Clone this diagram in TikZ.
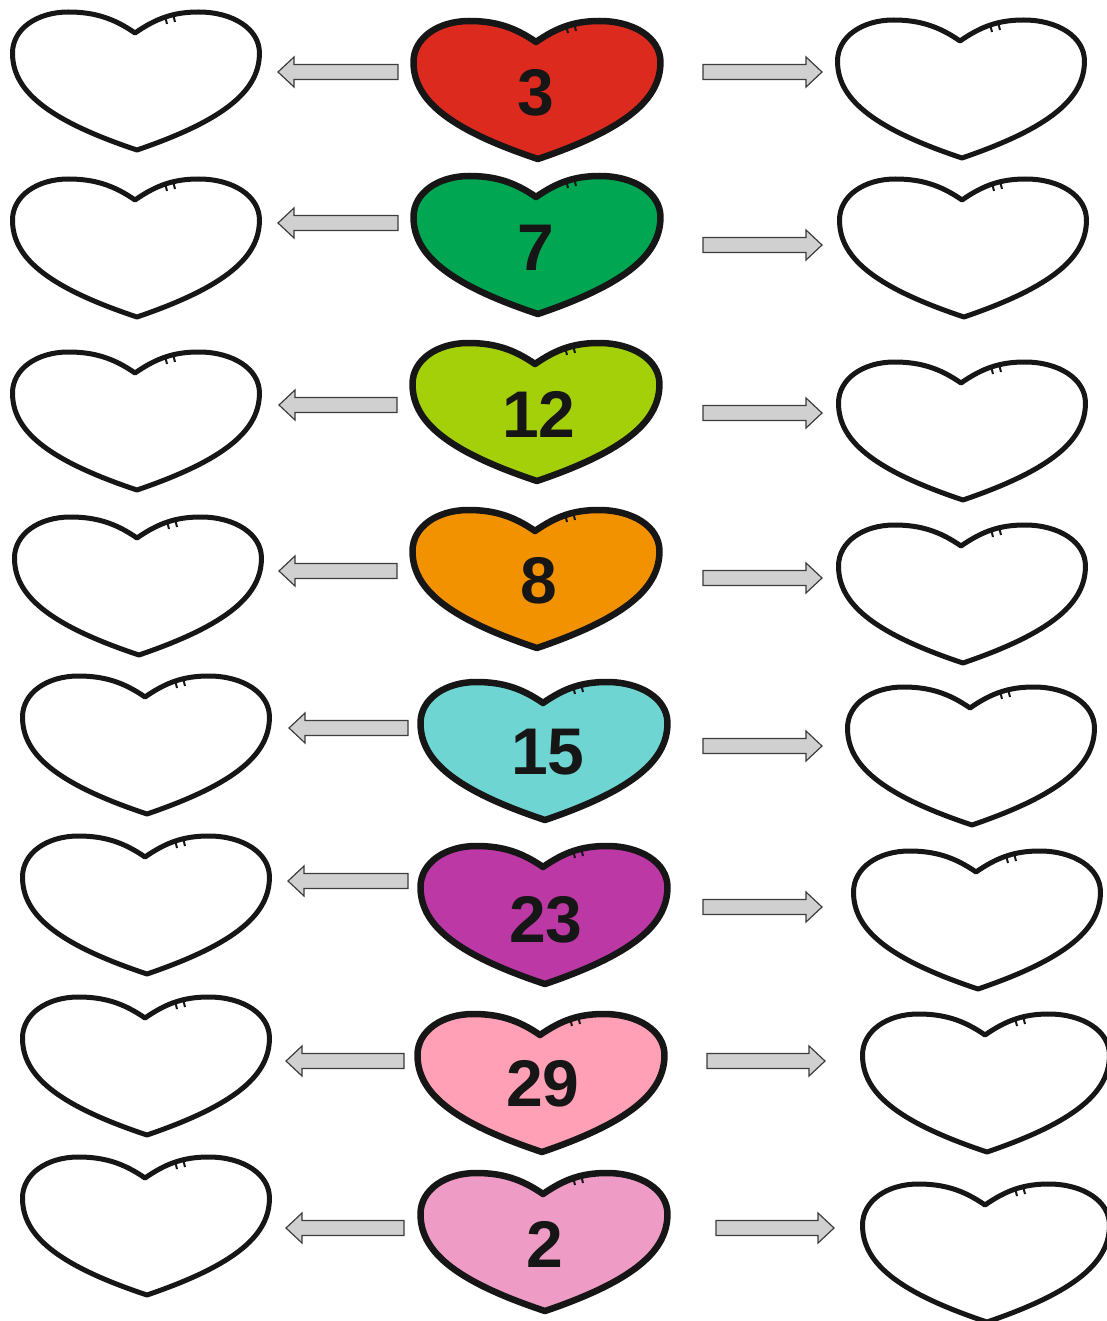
\documentclass[tikz,border=0pt]{standalone}
\usepackage{fontspec}
\setmainfont{Liberation Sans}
\usetikzlibrary{calc}
\definecolor{cRed}{RGB}{220,43,30}
\definecolor{cGreen}{RGB}{0,166,81}
\definecolor{cLime}{RGB}{164,208,10}
\definecolor{cOrange}{RGB}{243,146,0}
\definecolor{cCyan}{RGB}{111,213,210}
\definecolor{cPurple}{RGB}{188,56,165}
\definecolor{cPink}{RGB}{255,160,182}
\definecolor{cRose}{RGB}{238,156,198}
\definecolor{cInk}{RGB}{22,22,22}
\definecolor{cArrowFill}{RGB}{208,208,208}
\definecolor{cArrowLine}{RGB}{60,60,60}
\tikzset{
  colheart/.style={draw=cInk, line width=6.5pt, line join=round, fill=#1},
  openheart/.style={draw=cInk, line width=5pt, line join=round, fill=white},
  tickmark/.style={draw=cInk, line width=2pt},
  numlabel/.style={text=cInk, inner sep=0pt, font=\fontsize{66}{66}\selectfont\bfseries},
  garrow/.style={draw=cArrowLine, fill=cArrowFill, line width=1.2pt, line join=miter}
}
\newcommand{\heartat}[2]{%
  \draw[#2, shift={(#1)}, xscale=0.98] (0,0) .. controls (22,-15) and (40,-21) .. (65,-21)
    .. controls (100,-21) and (127,-4) .. (127,20)
    .. controls (127,56) and (95,86) .. (2,117)
    .. controls (-93,86) and (-125,56) .. (-125,20)
    .. controls (-125,-4) and (-100,-21) .. (-68,-21)
    .. controls (-42,-21) and (-22,-15) .. (0,0) -- cycle;
  \draw[tickmark, shift={(#1)}] (30,-17) -- (32,-9) (38,-19) -- (40,-11);
}
\newcommand{\blockarrow}[2]{%
  \draw[garrow] let \p1=(#1), \p2=(#2), \n1={sign(\x2-\x1)} in
    (\x1,{\y1+7.5pt}) -- ({\x2-\n1*16pt},{\y1+7.5pt}) -- ({\x2-\n1*16pt},{\y1+15pt})
    -- (\x2,\y1) -- ({\x2-\n1*16pt},{\y1-15pt}) -- ({\x2-\n1*16pt},{\y1-7.5pt})
    -- (\x1,{\y1-7.5pt}) -- cycle;
}
\begin{document}
\begin{tikzpicture}[x=1pt, y=-1pt]
\useasboundingbox (0,0) rectangle (1106,1321);
% heart dips (left, centre, right)
\coordinate (L1) at (135,33);   \coordinate (C1) at (536,42);   \coordinate (R1) at (960,41);
\coordinate (L2) at (135,200);  \coordinate (C2) at (536,197);  \coordinate (R2) at (962,200);
\coordinate (L3) at (135,373);  \coordinate (C3) at (535,364);  \coordinate (R3) at (961,383);
\coordinate (L4) at (137,538);  \coordinate (C4) at (535,531);  \coordinate (R4) at (961,546);
\coordinate (L5) at (145,697);  \coordinate (C5) at (543,703);  \coordinate (R5) at (970,708);
\coordinate (L6) at (145,857);  \coordinate (C6) at (543,867);  \coordinate (R6) at (976,872);
\coordinate (L7) at (145,1018); \coordinate (C7) at (540,1035); \coordinate (R7) at (985,1035);
\coordinate (L8) at (145,1178); \coordinate (C8) at (543,1194); \coordinate (R8) at (985,1205);
% hearts
\heartat{C1}{colheart=cRed}
\heartat{C2}{colheart=cGreen}
\heartat{C3}{colheart=cLime}
\heartat{C4}{colheart=cOrange}
\heartat{C5}{colheart=cCyan}
\heartat{C6}{colheart=cPurple}
\heartat{C7}{colheart=cPink}
\heartat{C8}{colheart=cRose}
\foreach \i in {1,...,8}{
  \heartat{L\i}{openheart}
  \heartat{R\i}{openheart}
}
% numbers
\node[numlabel] (n1) at (536,93)   {3};
\node[numlabel] (n2) at (536,248)  {7};
\node[numlabel] (n3) at (539,414)  {12};
\node[numlabel] (n4) at (539,581)  {8};
\node[numlabel] (n5) at (548,752)  {15};
\node[numlabel] (n6) at (546,920)  {23};
\node[numlabel] (n7) at (543,1084) {29};
\node[numlabel] (n8) at (545,1244) {2};
% arrow ends
\coordinate (al1s) at (398,72);   \coordinate (al1e) at (278,72);
\coordinate (ar1s) at (703,72);   \coordinate (ar1e) at (822,72);
\coordinate (al2s) at (398,223);  \coordinate (al2e) at (278,223);
\coordinate (ar2s) at (703,245);  \coordinate (ar2e) at (822,245);
\coordinate (al3s) at (397,405);  \coordinate (al3e) at (279,405);
\coordinate (ar3s) at (703,413);  \coordinate (ar3e) at (822,413);
\coordinate (al4s) at (397,571);  \coordinate (al4e) at (279,571);
\coordinate (ar4s) at (703,578);  \coordinate (ar4e) at (822,578);
\coordinate (al5s) at (408,728);  \coordinate (al5e) at (289,728);
\coordinate (ar5s) at (703,746);  \coordinate (ar5e) at (822,746);
\coordinate (al6s) at (408,881);  \coordinate (al6e) at (288,881);
\coordinate (ar6s) at (703,907);  \coordinate (ar6e) at (822,907);
\coordinate (al7s) at (404,1061); \coordinate (al7e) at (286,1061);
\coordinate (ar7s) at (707,1061); \coordinate (ar7e) at (825,1061);
\coordinate (al8s) at (404,1228); \coordinate (al8e) at (286,1228);
\coordinate (ar8s) at (716,1228); \coordinate (ar8e) at (834,1228);
\foreach \i in {1,...,8}{
  \blockarrow{al\i s}{al\i e}
  \blockarrow{ar\i s}{ar\i e}
}
\end{tikzpicture}
\end{document}
